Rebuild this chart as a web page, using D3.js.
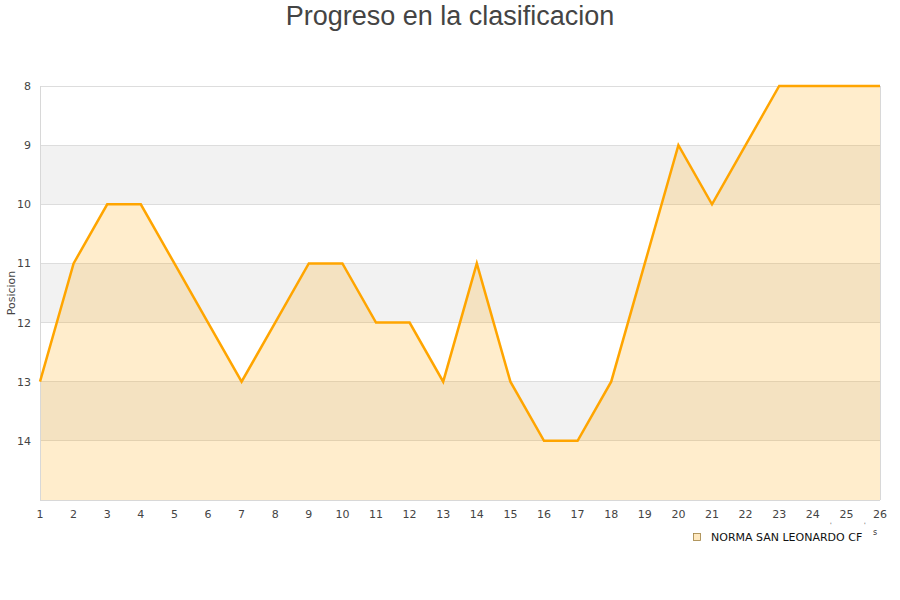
<!DOCTYPE html>
<html><head><meta charset="utf-8">
<script src="https://cdn.jsdelivr.net/npm/d3@7/dist/d3.min.js"></script>
<style>body{margin:0;background:#fff;font-family:"DejaVu Sans",sans-serif;}</style>
</head><body>
<svg id="c" width="900" height="600"></svg>
<script>
const jornadas = [1,2,3,4,5,6,7,8,9,10,11,12,13,14,15,16,17,18,19,20,21,22,23,24,25,26];
const posiciones = [13,11,10,10,11,12,13,12,11,11,12,12,13,11,13,14,14,13,11,9,10,9,8,8,8,8];
const yTicks = [8,9,10,11,12,13,14];
const bands = [[9,10],[11,12],[13,14]];
const seriesName = "NORMA SAN LEONARDO CF";
const title = "Progreso en la clasificacion";
const yTitle = "Posicion";

const svg = d3.select("#c");
const L=40,R=880,T=86,B=500;
const x = d3.scaleLinear().domain([1,26]).range([L,R]);
const y = d3.scaleLinear().domain([8,15]).range([T,B]);

svg.append("g").selectAll("rect").data(bands).join("rect")
  .attr("x",L).attr("width",R-L)
  .attr("y",d=>y(d[0])).attr("height",d=>y(d[1])-y(d[0]))
  .attr("fill","#f2f2f2");

svg.append("g").selectAll("line").data(yTicks).join("line")
  .attr("x1",L).attr("x2",R).attr("y1",d=>y(d)).attr("y2",d=>y(d))
  .attr("stroke","#dddddd").attr("stroke-width",1).attr("shape-rendering","crispEdges");

const area = d3.area().x((d,i)=>x(jornadas[i])).y0(y(15)).y1(d=>y(d));
svg.append("path").datum(posiciones).attr("d",area).attr("fill","rgba(255,165,0,0.2)");

// frame
svg.append("line").attr("x1",L).attr("x2",L).attr("y1",T).attr("y2",B).attr("stroke","#d8d8d8").attr("shape-rendering","crispEdges");
svg.append("line").attr("x1",L).attr("x2",R).attr("y1",B).attr("y2",B).attr("stroke","#d8d8d8").attr("shape-rendering","crispEdges");
svg.append("line").attr("x1",R).attr("x2",R).attr("y1",T).attr("y2",B).attr("stroke","#d8d8d8").attr("shape-rendering","crispEdges");

const line = d3.line().x((d,i)=>x(jornadas[i])).y(d=>y(d));
svg.append("path").datum(posiciones).attr("d",line).attr("fill","none")
  .attr("stroke","#ffa500").attr("stroke-width",2.5).attr("stroke-linejoin","miter");

// y ticks
svg.append("g").selectAll("text").data(yTicks).join("text")
  .attr("x",31).attr("y",d=>y(d)+4).attr("text-anchor","end")
  .attr("font-size",11).attr("fill","#444").text(d=>d);
// x ticks
svg.append("g").selectAll("text").data(jornadas).join("text")
  .attr("x",d=>x(d)).attr("y",518).attr("text-anchor","middle")
  .attr("font-size",11).attr("fill","#444").text(d=>d);

svg.append("text").attr("x",450).attr("y",25).attr("text-anchor","middle")
  .attr("font-family","'Liberation Sans',Arial,sans-serif")
  .attr("font-size",27).attr("fill","#444").text(title);
svg.append("text").attr("transform","translate(15,293) rotate(-90)").attr("text-anchor","middle")
  .attr("font-size",11).attr("fill","#444").text(yTitle);

// legend
svg.append("rect").attr("x",693.5).attr("y",533.5).attr("width",7).attr("height",7)
  .attr("fill","#ffe9c0").attr("stroke","#a08040").attr("stroke-width",0.8);
svg.append("text").attr("x",711).attr("y",541).attr("font-size",11).attr("fill","#111").text(seriesName);
svg.append("text").attr("x",873).attr("y",535).attr("font-size",8).attr("fill","#333").text("s");
svg.append("text").attr("x",830).attr("y",527).attr("font-size",6).attr("fill","#333").text("'");
svg.append("text").attr("x",864).attr("y",527).attr("font-size",6).attr("fill","#333").text("'");
</script>
</body></html>
